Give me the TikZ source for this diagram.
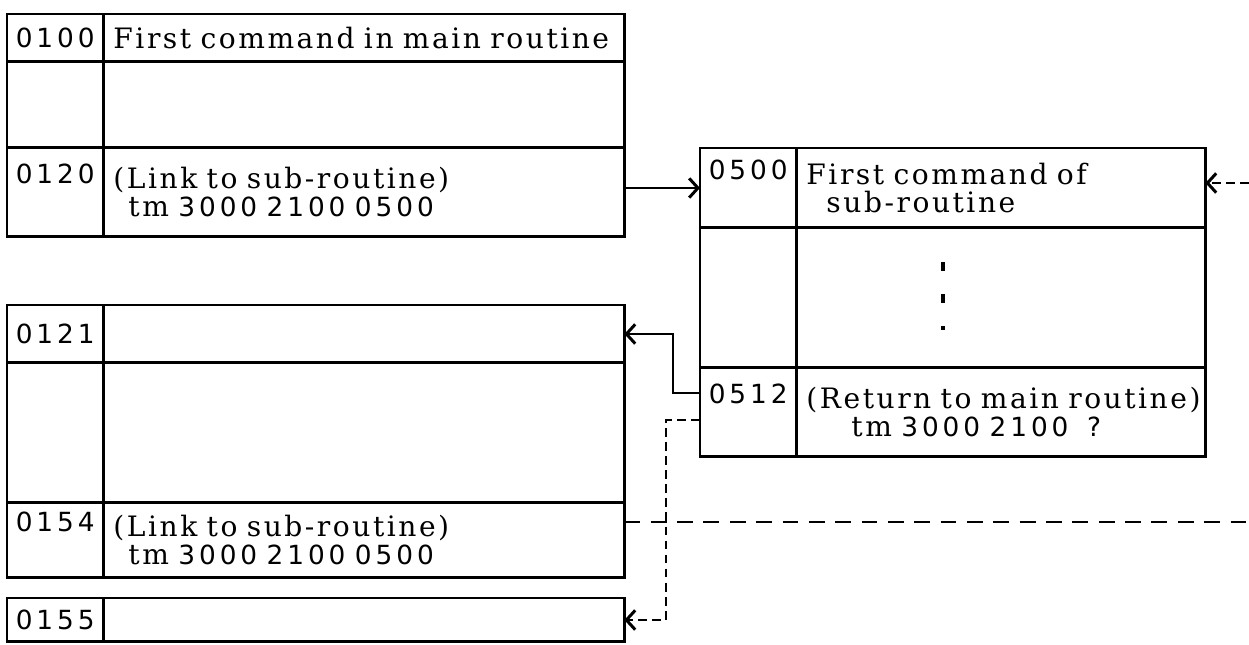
\documentclass[tikz,border=0pt]{standalone}
\usepackage{fontspec}
\setmainfont[LetterSpace=9,WordSpace=1.3]{DejaVu Serif}
\newfontfamily\numfont[LetterSpace=15]{DejaVu Sans}
\usetikzlibrary{arrows.meta}

\tikzset{
  adrcell/.style={draw, line width=1.7pt, outer sep=0pt, inner sep=0pt,
    minimum width=1.93cm, anchor=north west, align=center,
    font=\numfont\fontsize{15}{16}\selectfont},
  txtcell/.style={draw, line width=1.7pt, outer sep=0pt, inner xsep=0.2cm,
    inner ysep=0pt, text width=#1, anchor=north west, align=left,
    font=\fontsize{16}{16}\selectfont},
  link/.style={line width=1.3pt, -{Straight Barb[length=5pt,width=11pt,line width=1.7pt]}},
  dashlink/.style={link, dash pattern=on 5pt off 3pt},
  dashline/.style={line width=1.3pt, dash pattern=on 9pt off 6pt}
}
\newcommand{\tmdigits}[1]{{\numfont\fontsize{15}{16}\selectfont #1}}

\begin{document}
\begin{tikzpicture}[x=0.02cm,y=-0.02cm]
\useasboundingbox (0,0) rectangle (1249,645);

% main routine
\node[adrcell, minimum height=0.96cm] (a0100) at (7,14) {0100};
\node[txtcell=10.02cm, minimum height=0.96cm] (c0100) at (a0100.north east) {First command in main routine};
\node[adrcell, minimum height=1.72cm] (a0101) at (a0100.south west) {};
\node[txtcell=10.02cm, minimum height=1.72cm] (c0101) at (a0101.north east) {};
\node[adrcell, minimum height=1.78cm] (a0120) at (a0101.south west) {0120\\ \strut};
\node[txtcell=10.02cm, minimum height=1.78cm] (c0120) at (a0120.north east) {(Link to sub-routine)\\ \hspace*{0.3cm}tm \tmdigits{3000 2100 0500}};

\node[adrcell, minimum height=1.16cm] (a0121) at (7,305) {0121};
\node[txtcell=10.02cm, minimum height=1.16cm] (c0121) at (a0121.north east) {};
\node[adrcell, minimum height=2.8cm] (a0122) at (a0121.south west) {};
\node[txtcell=10.02cm, minimum height=2.8cm] (c0122) at (a0122.north east) {};
\node[adrcell, minimum height=1.5cm] (a0154) at (a0122.south west) {0154\\ \strut};
\node[txtcell=10.02cm, minimum height=1.5cm] (c0154) at (a0154.north east) {(Link to sub-routine)\\ \hspace*{0.3cm}tm \tmdigits{3000 2100 0500}};

\node[adrcell, minimum height=0.88cm] (a0155) at (7,598) {0155};
\node[txtcell=10.02cm, minimum height=0.88cm] (c0155) at (a0155.north east) {};

% sub-routine
\node[adrcell, minimum height=1.6cm] (a0500) at (700,148) {0500\\ \strut};
\node[txtcell=7.78cm, minimum height=1.6cm] (c0500) at (a0500.north east) {First command of\\ \hspace*{0.4cm}sub-routine};
\node[adrcell, minimum height=2.8cm] (a0501) at (a0500.south west) {};
\node[txtcell=7.78cm, minimum height=2.8cm] (c0501) at (a0501.north east) {};
\node[adrcell, minimum height=1.78cm] (a0512) at (a0501.south west) {0512\\ \strut};
\node[txtcell=7.78cm, minimum height=1.78cm] (c0512) at (a0512.north east) {\mbox{(Return to main routine)}\\ \hspace*{0.9cm}tm \tmdigits{3000 2100\ \ ?}};

\foreach \y/\l in {262/9,294/9,326/4}
  \draw[line width=1.8pt] (943,\y) -- ++(0,\l);

% jumps
\draw[link] (c0120.east |- a0500.west) -- (a0500.west);
\draw[link] ([yshift=-0.5cm]a0512.north west) -- ++(-27,0) |- (c0121.east);
\draw[dashlink] ([yshift=-1.04cm]a0512.north west) -- ++(-34,0) |- (c0155.east);

\coordinate (offA) at (1249,183);
\draw[dashlink] (offA) -- (offA -| c0500.east);
\coordinate (offB) at (1249,522);
\draw[dashline] (offB -| c0154.east) -- (offB);
\end{tikzpicture}
\end{document}
